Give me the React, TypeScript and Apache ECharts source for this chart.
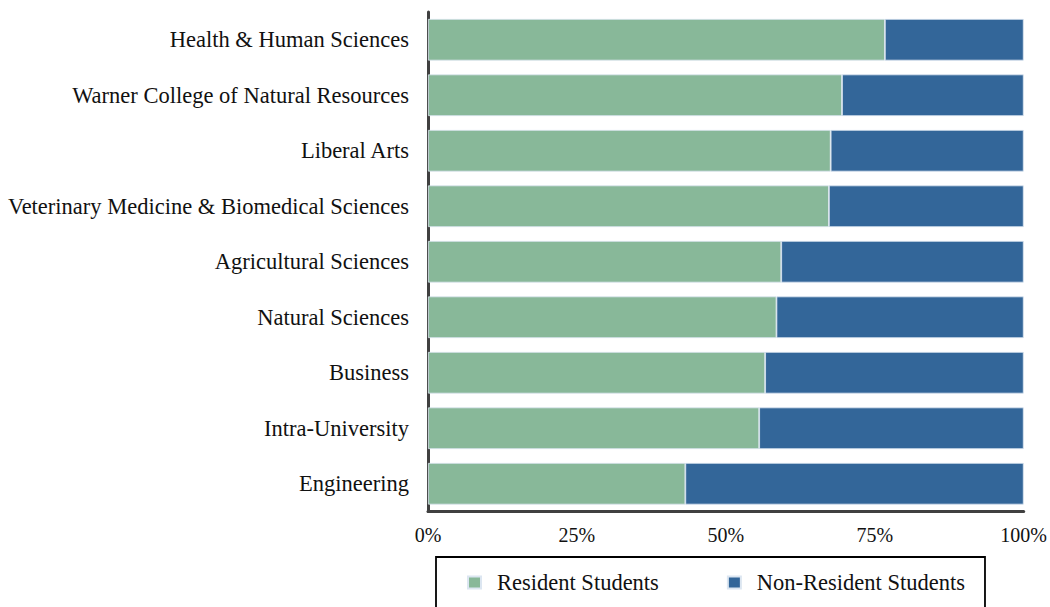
import React, { useEffect, useRef } from "react";
import * as echarts from "echarts";

const categories = [
  "Health & Human Sciences",
  "Warner College of Natural Resources",
  "Liberal Arts",
  "Veterinary Medicine & Biomedical Sciences",
  "Agricultural Sciences",
  "Natural Sciences",
  "Business",
  "Intra-University",
  "Engineering",
];
const residentValues = [76.7, 69.5, 67.6, 67.3, 59.3, 58.5, 56.6, 55.6, 43.2];
const nonResidentValues = [23.3, 30.5, 32.4, 32.7, 40.7, 41.5, 43.4, 44.4, 56.8];
const xTicks = [0, 25, 50, 75, 100];

const FONT = "'Liberation Serif', 'DejaVu Serif', serif";

export default function App() {
  const ref = useRef<HTMLDivElement>(null);
  useEffect(() => {
    if (!ref.current) return;
    const chart = echarts.init(ref.current, undefined, { renderer: "svg" });
    chart.setOption({
      animation: false,
      textStyle: { fontFamily: FONT },
      grid: { left: 428, right: 25, top: 12, height: 499.5 },
      legend: {
        left: 436,
        top: 557,
        padding: [14, 20, 30, 31],
        borderColor: "#000",
        borderWidth: 1.8,
        itemWidth: 13,
        itemHeight: 12,
        itemGap: 68,
        icon: "rect",
        textStyle: { fontFamily: FONT, fontSize: 22.5, color: "#111", padding: [0, 0, 0, 11] },
        data: ["Resident Students", "Non-Resident Students"],
      },
      xAxis: {
        type: "value",
        min: xTicks[0],
        max: xTicks[xTicks.length - 1],
        interval: 25,
        axisLine: { show: true, lineStyle: { color: "#404040", width: 3 } },
        axisTick: { show: false },
        splitLine: { show: false },
        axisLabel: {
          formatter: "{value}%",
          fontFamily: FONT,
          fontSize: 20,
          color: "#111",
          margin: 13,
        },
      },
      yAxis: {
        type: "category",
        inverse: true,
        data: categories,
        axisLine: { show: true, lineStyle: { color: "#404040", width: 3 } },
        axisTick: { show: false },
        axisLabel: { fontFamily: FONT, fontSize: 22.5, color: "#111", margin: 19 },
      },
      series: [
        {
          name: "Resident Students",
          type: "bar",
          stack: "total",
          barCategoryGap: "25%",
          data: residentValues,
          itemStyle: { color: "#88B899", borderColor: "#DCE6F1", borderWidth: 0.8 },
        },
        {
          name: "Non-Resident Students",
          type: "bar",
          stack: "total",
          barCategoryGap: "25%",
          data: nonResidentValues,
          itemStyle: { color: "#336699", borderColor: "#DCE6F1", borderWidth: 0.8 },
        },
      ],
    });
    return () => chart.dispose();
  }, []);
  return <div ref={ref} style={{ width: 1050, height: 607, position: "absolute", left: 0, top: 0 }} />;
}
